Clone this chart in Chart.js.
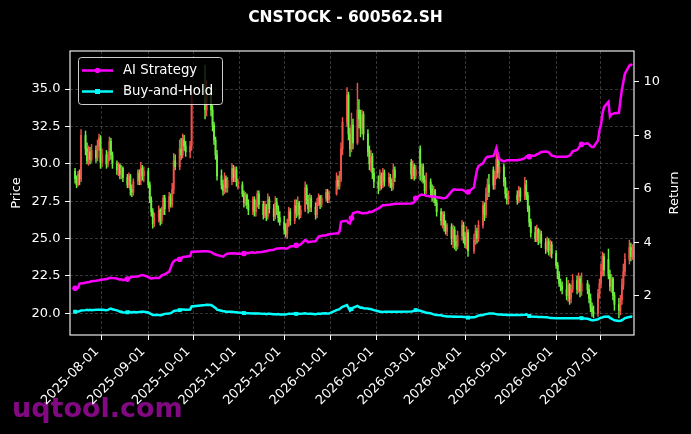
<!DOCTYPE html>
<html>
<head>
<meta charset="utf-8">
<title>CNSTOCK - 600562.SH</title>
<script src="https://cdn.jsdelivr.net/npm/chart.js@4.4.1/dist/chart.umd.min.js"></script>
<style>
  html, body { margin: 0; padding: 0; background: #000; }
  #wrap { width: 691px; height: 434px; }
</style>
</head>
<body>
<div id="wrap"><canvas id="chart" width="691" height="434"></canvas></div>
<script>
// trading calendar (weekdays minus exchange holidays)
const firstDay = '2025-07-14';
const lastDay = '2026-07-22';
const holidays = [
    '2025-10-01', '2025-10-02', '2025-10-03', '2025-10-06', '2025-10-07', '2025-10-08',
    '2026-01-01', '2026-01-02',
    '2026-02-16', '2026-02-17', '2026-02-18', '2026-02-19', '2026-02-20', '2026-02-23',
    '2026-04-06', '2026-05-01', '2026-05-04', '2026-05-05', '2026-06-19'
];

const tickLabels = ['2025-08-01', '2025-09-01', '2025-10-01', '2025-11-01', '2025-12-01', '2026-01-01',
    '2026-02-01', '2026-03-01', '2026-04-01', '2026-05-01', '2026-06-01', '2026-07-01'];
const priceTicks = [20, 22.5, 25, 27.5, 30, 32.5, 35];
const returnTicks = [2, 4, 6, 8, 10];

// daily candles, one line per month
const opens = [
    29.5,29.0,28.6,29.3,29.0,31.9,31.0,30.2,30.8,30.3,30.9,30.4,31.2,31.7,
    30.1,30.6,30.0,30.5,31.5,30.6,30.0,29.6,29.9,29.3,29.7,29.1,28.6,29.2,28.3,28.1,28.8,29.4,28.9,29.7,29.2,
    29.5,28.6,27.6,26.8,26.0,26.4,26.9,26.2,26.8,27.7,27.0,27.8,27.3,28.3,30.2,29.8,31.0,30.6,31.6,31.2,30.8,31.2,
    34.4,33.6,35.0,33.6,32.6,31.6,30.6,29.2,28.6,28.2,29.0,28.4,28.9,29.7,29.1,29.6,28.4,
    28.6,28.0,27.4,27.9,27.3,26.9,27.6,26.8,27.3,28.0,27.3,26.6,27.2,26.5,27.6,27.0,26.5,27.4,27.0,26.4,
    26.1,25.6,25.3,26.0,26.8,26.2,27.2,26.7,27.4,26.6,26.9,28.4,27.6,27.0,27.7,27.1,26.6,27.4,27.8,27.3,27.7,28.1,27.6,
    28.0,28.9,28.5,29.0,31.0,32.8,34.6,32.0,31.0,32.6,31.4,33.6,33.0,32.4,33.3,32.0,30.8,30.0,30.5,29.4,
    28.8,28.4,29.2,28.6,29.4,28.8,29.1,28.7,28.5,29.6,30.1,29.3,29.8,29.2,
    31.0,29.2,29.8,28.9,28.2,28.8,28.3,27.8,28.2,27.4,26.8,26.2,26.6,25.9,25.5,25.8,25.0,25.6,24.8,24.5,25.2,25.9,
    25.1,24.6,25.4,24.2,24.9,25.5,25.0,25.9,27.2,26.6,28.0,28.6,29.6,28.6,29.2,30.3,29.4,29.8,28.8,28.0,27.6,
    27.9,27.6,28.2,27.8,28.6,27.9,27.0,26.1,25.4,25.0,25.6,24.9,25.3,24.7,24.3,24.8,24.2,24.6,
    24.0,23.2,22.6,22.0,21.8,21.6,21.2,21.9,21.0,21.6,22.2,21.6,22.3,21.5,22.0,21.6,21.0,20.4,20.1,20.0,21.3,
    22.0,22.8,23.8,23.6,22.6,21.8,22.3,21.2,20.6,20.2,20.9,21.9,22.8,23.6,24.4,23.8
];
const highs = [
    29.7,29.2,29.5,29.6,32.3,32.2,31.4,31.2,31.1,31.3,31.2,31.6,32.0,31.9,
    31.0,30.9,30.8,31.8,31.7,30.8,30.2,30.1,30.0,29.9,29.8,29.3,29.4,29.3,28.6,29.0,29.6,29.6,30.1,29.9,29.8,
    29.7,28.8,27.8,27.0,26.7,27.2,27.0,27.1,27.9,27.9,28.1,28.0,28.7,30.7,30.6,31.6,31.7,32.0,31.9,31.5,31.5,34.8,
    36.6,35.6,35.3,33.9,32.8,31.8,30.9,29.6,28.9,29.4,29.2,29.1,30.0,29.9,29.8,29.8,29.0,
    28.8,28.2,28.1,28.0,27.6,27.8,27.8,27.6,28.2,28.2,27.5,27.5,27.3,28.0,27.8,27.3,27.8,27.7,27.2,26.8,
    26.5,26.0,26.3,27.1,27.0,27.6,27.6,27.8,27.5,27.2,28.8,28.6,27.9,28.0,27.9,27.4,27.7,28.0,27.9,27.9,28.3,28.3,28.2,
    29.4,29.2,29.5,31.4,33.1,35.1,34.8,32.4,33.4,33.0,35.4,34.3,33.6,33.6,33.5,32.3,31.2,30.9,30.7,29.7,
    29.2,29.6,29.4,29.7,29.6,29.4,29.3,29.0,30.0,29.8,30.3,30.2,30.0,29.9,
    31.2,30.0,30.0,29.2,29.4,29.0,28.6,28.5,28.3,27.6,27.0,26.8,26.8,26.2,26.0,26.0,25.9,25.8,25.2,25.5,26.2,26.1,
    25.4,25.8,25.6,25.3,25.9,25.7,26.2,27.5,27.4,28.4,29.0,29.3,29.8,29.5,30.7,30.7,30.2,30.0,29.1,28.4,28.2,
    28.2,28.5,28.4,29.1,28.9,28.1,27.2,26.3,25.8,25.9,25.7,25.6,25.5,25.0,25.1,25.0,24.9,24.8,
    24.2,23.4,22.8,22.3,22.1,22.4,22.2,22.0,21.9,22.6,22.5,22.7,22.5,22.7,22.2,21.9,21.3,20.7,20.5,21.6,22.3,
    23.3,24.1,24.0,24.3,22.9,22.6,22.4,21.4,21.0,21.2,22.3,23.3,24.0,24.9,24.7,24.6
];
const lows = [
    28.7,28.4,28.5,28.6,28.8,30.6,30.0,29.9,30.0,30.1,30.1,30.2,30.9,29.7,
    29.8,29.7,29.8,30.2,30.3,29.7,29.3,29.2,29.0,29.0,28.8,28.4,28.4,27.9,27.8,27.9,28.6,28.6,28.6,28.9,28.8,
    28.4,27.4,26.5,25.7,25.8,26.1,25.9,26.0,26.6,26.6,26.8,27.1,27.1,28.0,29.6,29.6,30.3,30.4,30.9,30.5,30.4,30.9,
    33.0,33.2,33.2,32.2,31.3,30.3,28.9,28.3,27.9,28.0,28.1,28.1,28.6,28.8,28.8,28.5,28.3,
    27.8,27.1,27.2,27.0,26.6,26.6,26.5,26.5,27.1,27.0,26.3,26.4,26.2,26.3,26.7,26.2,26.3,26.6,26.1,25.9,
    25.3,25.1,25.0,25.8,25.9,26.0,26.4,26.5,26.3,26.4,26.8,27.3,26.7,26.8,26.8,26.3,26.4,27.2,27.0,27.1,27.5,27.4,27.4,
    27.9,28.3,28.3,28.8,30.6,32.5,31.6,30.5,30.8,31.0,31.3,32.4,31.8,32.0,31.6,30.5,29.6,29.5,29.0,28.4,
    28.0,28.2,28.3,28.4,28.5,28.5,28.4,28.2,28.3,28.8,29.0,29.0,28.9,29.0,
    28.9,28.8,28.7,27.9,28.0,27.9,27.5,27.4,27.2,26.5,25.9,25.7,25.5,25.3,25.2,24.6,24.4,24.3,24.2,24.3,24.9,24.7,
    24.4,24.3,23.8,24.0,24.6,24.7,24.8,25.7,26.2,26.4,27.6,27.8,28.3,28.3,29.0,29.1,29.0,28.5,27.7,27.3,27.3,
    27.3,27.4,27.5,27.6,27.6,26.8,25.8,25.1,24.8,24.8,24.6,24.7,24.4,24.0,24.1,23.9,23.8,23.7,
    23.0,22.3,21.8,21.5,21.3,20.9,20.8,20.6,20.7,21.4,21.3,21.4,21.1,21.2,21.3,20.7,20.1,19.8,19.7,19.8,21.0,
    21.7,22.5,22.5,22.3,21.5,21.4,20.9,20.2,19.7,19.9,20.6,21.6,22.5,23.3,23.5,23.6
];
const closes = [
    29.0,28.6,29.3,29.0,31.9,31.0,30.2,30.8,30.3,30.9,30.4,31.2,31.7,30.1,
    30.6,30.0,30.5,31.5,30.6,30.0,29.6,29.9,29.3,29.7,29.1,28.6,29.2,28.3,28.1,28.8,29.4,28.9,29.7,29.2,29.5,
    28.6,27.6,26.8,26.0,26.4,26.9,26.2,26.8,27.7,27.0,27.8,27.3,28.3,30.2,29.8,31.0,30.6,31.6,31.2,30.8,31.2,34.4,
    33.6,35.0,33.6,32.6,31.6,30.6,29.2,28.6,28.2,29.0,28.4,28.9,29.7,29.1,29.6,28.8,28.8,
    28.0,27.4,27.9,27.3,26.9,27.6,26.8,27.3,28.0,27.3,26.6,27.2,26.5,27.6,27.0,26.5,27.4,27.0,26.4,26.1,
    25.6,25.3,26.0,26.8,26.2,27.2,26.7,27.4,26.6,26.9,28.4,27.6,27.0,27.7,27.1,26.6,27.4,27.8,27.3,27.7,28.1,27.6,28.0,
    28.9,28.5,29.0,31.0,32.8,34.6,32.0,31.0,32.6,31.4,33.6,33.0,32.4,33.3,32.0,30.8,30.0,30.5,29.4,28.8,
    28.4,29.2,28.6,29.4,28.8,29.1,28.7,28.5,29.6,29.1,29.3,29.8,29.2,29.6,
    29.2,29.8,28.9,28.2,28.8,28.3,27.8,28.2,27.4,26.8,26.2,26.6,25.9,25.5,25.8,25.0,25.6,24.8,24.5,25.2,25.9,25.1,
    24.6,25.4,24.2,24.9,25.5,25.0,25.9,27.2,26.6,28.0,28.6,28.1,28.6,29.2,30.3,29.4,29.8,28.8,28.0,27.6,27.9,
    27.6,28.2,27.8,28.6,27.9,27.0,26.1,25.4,25.0,25.6,24.9,25.3,24.7,24.3,24.8,24.2,24.6,24.0,
    23.2,22.6,22.0,21.8,21.6,21.2,21.9,21.0,21.6,22.2,21.6,22.3,21.5,22.0,21.6,21.0,20.4,20.1,20.0,21.3,22.0,
    22.8,23.8,22.9,22.6,21.8,22.3,21.2,20.6,20.2,20.9,21.9,22.8,23.6,24.4,23.8,24.2
];

// cumulative returns, right axis
const aiStrategy = [
    2.28,2.28,2.30,2.45,2.46,2.48,2.50,2.50,2.52,2.54,2.56,2.57,2.58,2.60,
    2.60,2.62,2.64,2.66,2.67,2.66,2.64,2.62,2.60,2.62,2.58,2.62,2.66,2.68,2.70,2.71,2.72,2.74,2.76,2.77,2.76,
    2.70,2.66,2.64,2.65,2.66,2.66,2.70,2.76,2.78,2.80,2.90,3.05,3.20,3.28,3.33,3.36,3.40,3.44,3.46,3.46,3.48,3.64,
    3.66,3.66,3.64,3.60,3.56,3.54,3.52,3.48,3.46,3.50,3.55,3.57,3.59,3.58,3.59,3.57,3.58,
    3.56,3.58,3.60,3.60,3.60,3.62,3.60,3.61,3.62,3.62,3.64,3.66,3.66,3.68,3.70,3.72,3.74,3.76,3.76,3.77,
    3.77,3.76,3.77,3.80,3.84,3.86,3.88,3.90,3.90,3.92,4.08,4.05,4.00,4.02,4.02,4.04,4.12,4.21,4.22,4.24,4.26,4.28,4.30,
    4.33,4.33,4.40,4.76,4.78,4.80,4.72,4.70,4.90,5.08,5.14,5.12,5.10,5.08,5.08,5.10,5.14,5.12,5.14,5.18,
    5.26,5.30,5.34,5.38,5.38,5.40,5.40,5.42,5.42,5.44,5.45,5.46,5.50,5.64,
    5.76,5.78,5.77,5.76,5.74,5.71,5.70,5.72,5.70,5.68,5.66,5.64,5.64,5.66,5.70,5.90,5.96,5.98,5.96,5.96,5.96,5.94,
    5.90,5.88,5.88,6.05,6.40,6.70,6.85,6.95,7.05,7.15,7.20,7.20,7.22,7.35,7.52,7.30,7.10,7.02,7.04,7.06,7.06,
    7.06,7.08,7.08,7.14,7.20,7.22,7.20,7.22,7.24,7.28,7.30,7.34,7.37,7.39,7.38,7.36,7.30,7.24,
    7.20,7.20,7.20,7.20,7.20,7.20,7.22,7.24,7.30,7.40,7.45,7.52,7.60,7.66,7.70,7.66,7.60,7.56,7.56,7.80,8.20,
    8.40,8.80,9.05,9.25,8.70,8.78,8.80,8.82,8.84,9.30,9.70,10.00,10.30,10.60,10.64,10.62
];
const buyHold = [
    1.40,1.40,1.41,1.42,1.45,1.46,1.47,1.46,1.47,1.46,1.47,1.47,1.48,1.47,
    1.47,1.46,1.47,1.50,1.52,1.49,1.45,1.43,1.40,1.41,1.37,1.38,1.40,1.38,1.37,1.39,1.38,1.39,1.40,1.40,1.40,
    1.37,1.34,1.31,1.28,1.28,1.28,1.27,1.28,1.30,1.32,1.33,1.35,1.38,1.42,1.44,1.46,1.47,1.48,1.48,1.47,1.48,1.60,
    1.65,1.66,1.65,1.62,1.58,1.54,1.48,1.44,1.42,1.42,1.40,1.40,1.40,1.39,1.38,1.38,1.37,
    1.36,1.35,1.35,1.34,1.34,1.33,1.34,1.33,1.34,1.33,1.32,1.32,1.31,1.32,1.32,1.31,1.31,1.30,1.31,1.30,
    1.30,1.30,1.31,1.32,1.32,1.33,1.32,1.33,1.32,1.32,1.34,1.33,1.32,1.32,1.32,1.31,1.32,1.33,1.32,1.33,1.34,1.33,1.33,
    1.46,1.48,1.50,1.55,1.58,1.65,1.55,1.44,1.50,1.55,1.62,1.58,1.55,1.56,1.53,1.52,1.50,1.50,1.48,1.46,
    1.42,1.40,1.40,1.39,1.40,1.40,1.40,1.40,1.40,1.40,1.41,1.42,1.44,1.46,
    1.44,1.42,1.40,1.38,1.36,1.34,1.32,1.30,1.29,1.28,1.27,1.25,1.24,1.23,1.22,1.22,1.21,1.22,1.21,1.21,1.21,1.20,
    1.20,1.19,1.18,1.19,1.21,1.23,1.26,1.28,1.30,1.31,1.32,1.33,1.33,1.32,1.31,1.30,1.30,1.29,1.29,1.28,1.28,
    1.28,1.28,1.28,1.29,1.30,1.27,1.24,1.22,1.21,1.21,1.20,1.20,1.20,1.19,1.19,1.18,1.17,1.17,
    1.16,1.16,1.16,1.16,1.16,1.16,1.16,1.16,1.16,1.16,1.16,1.16,1.17,1.16,1.14,1.12,1.10,1.08,1.08,1.12,1.15,
    1.17,1.19,1.21,1.22,1.17,1.14,1.11,1.08,1.05,1.06,1.08,1.12,1.16,1.20,1.22,1.21
];

const UP = '#f0524a';
const DOWN = '#6cf03c';
const MS_DAY = 86400000;
const ORIGIN = Date.UTC(2025, 7, 1);

function dayNum(s) {
    const [y, m, d] = s.split('-').map(Number);
    return (Date.UTC(y, m - 1, d) - ORIGIN) / MS_DAY;
}

const days = [];
for (let t = dayNum(firstDay); t <= dayNum(lastDay); t++) {
    const dt = new Date(ORIGIN + t * MS_DAY);
    const wd = dt.getUTCDay();
    if (wd === 0 || wd === 6) continue;
    if (holidays.includes(dt.toISOString().slice(0, 10))) continue;
    days.push(t);
}

const candleColors = closes.map((c, i) => (c >= opens[i] ? UP : DOWN));
const markEvery = (ctx) => (ctx.dataIndex % 25 === 0 ? 2.8 : 0);

const gridColor = 'rgba(255,255,255,0.3)';

const decor = {
    id: 'decor',
    beforeDraw(chart) {
        const c = chart.ctx;
        c.save();
        c.fillStyle = '#000';
        c.fillRect(0, 0, chart.width, chart.height);
        c.font = 'bold 27px "DejaVu Sans"';
        c.fillStyle = 'rgba(145, 10, 145, 0.9)';
        c.textBaseline = 'alphabetic';
        c.fillText('uqtool.com', 12, 417);
        c.restore();
    },
    afterDatasetsDraw(chart) {
        const c = chart.ctx;
        const a = chart.chartArea;
        c.save();
        // axes box
        c.strokeStyle = '#fff';
        c.lineWidth = 1.1;
        c.strokeRect(a.left, a.top, a.right - a.left, a.bottom - a.top);

        // right axis label, reads bottom to top like the left one
        c.save();
        c.translate(675, (a.top + a.bottom) / 2);
        c.rotate(-Math.PI / 2);
        c.font = '13px "DejaVu Sans"';
        c.fillStyle = '#fff';
        c.textAlign = 'center';
        c.textBaseline = 'middle';
        c.fillText('Return', 0, 0);
        c.restore();

        // legend
        const lx = 78.5, ly = 57.5, lw = 144, lh = 47;
        c.beginPath();
        c.roundRect(lx, ly, lw, lh, 3);
        c.fillStyle = 'rgba(0,0,0,0.8)';
        c.fill();
        c.strokeStyle = 'rgba(255,255,255,0.8)';
        c.lineWidth = 1;
        c.stroke();

        const rows = [
            { label: 'AI Strategy', color: '#ff00ff', y: 70.5, square: false },
            { label: 'Buy-and-Hold', color: '#00ffff', y: 91.5, square: true }
        ];
        c.font = '13.3px "DejaVu Sans"';
        c.textBaseline = 'middle';
        rows.forEach(r => {
            c.strokeStyle = r.color;
            c.fillStyle = r.color;
            c.lineWidth = 2.5;
            c.beginPath();
            c.moveTo(82, r.y);
            c.lineTo(113, r.y);
            c.stroke();
            if (r.square) {
                c.fillRect(95, r.y - 2.5, 5, 5);
            } else {
                c.beginPath();
                c.arc(97.5, r.y, 2.7, 0, Math.PI * 2);
                c.fill();
            }
            c.fillStyle = '#fff';
            c.fillText(r.label, 123, r.y + 0.5);
        });
        c.restore();
    }
};

Chart.defaults.font.family = '"DejaVu Sans", sans-serif';
Chart.defaults.color = '#fff';

const okLengths = [opens, highs, lows, closes, aiStrategy, buyHold].every(a => a.length === days.length);

new Chart(document.getElementById('chart'), {
    type: 'bar',
    data: {
        datasets: [
            {
                type: 'line',
                label: 'AI Strategy',
                data: days.map((d, i) => ({ x: d, y: aiStrategy[i] })),
                yAxisID: 'y1',
                borderColor: '#ff00ff',
                backgroundColor: '#ff00ff',
                borderWidth: 2.5,
                pointRadius: markEvery,
                pointStyle: 'circle',
                pointBorderWidth: 0,
                tension: 0,
                order: 0
            },
            {
                type: 'line',
                label: 'Buy-and-Hold',
                data: days.map((d, i) => ({ x: d, y: buyHold[i] })),
                yAxisID: 'y1',
                borderColor: '#00ffff',
                backgroundColor: '#00ffff',
                borderWidth: 2.5,
                pointRadius: markEvery,
                pointStyle: 'rect',
                pointBorderWidth: 0,
                tension: 0,
                order: 0
            },
            {
                label: 'body',
                data: days.map((d, i) => ({ x: d, y: [opens[i], closes[i]] })),
                yAxisID: 'y',
                backgroundColor: candleColors,
                barThickness: 1.2,
                grouped: false,
                borderWidth: 0,
                order: 1
            },
            {
                label: 'wick',
                data: days.map((d, i) => ({ x: d, y: [lows[i], highs[i]] })),
                yAxisID: 'y',
                backgroundColor: candleColors,
                barThickness: 0.8,
                grouped: false,
                borderWidth: 0,
                order: 2
            }
        ]
    },
    options: {
        responsive: false,
        animation: false,
        events: [],
        layout: { padding: 0 },
        plugins: {
            legend: { display: false },
            tooltip: { enabled: false },
            title: {
                display: true,
                text: okLengths ? 'CNSTOCK - 600562.SH' : 'LENGTH MISMATCH ' + days.length,
                color: '#fff',
                font: { size: 15.5, weight: 'bold' },
                padding: { top: 9, bottom: 23.4 }
            }
        },
        scales: {
            x: {
                type: 'linear',
                min: -21.4,
                max: 356.1,
                offset: false,
                afterBuildTicks: s => { s.ticks = tickLabels.map(t => ({ value: dayNum(t) })); },
                afterFit: s => { s.height = 99; },
                ticks: {
                    autoSkip: false,
                    minRotation: 45,
                    maxRotation: 45,
                    padding: 4,
                    labelOffset: -5,
                    color: '#fff',
                    font: { size: 13 },
                    callback: (v, i) => tickLabels[i]
                },
                grid: {
                    offset: false,
                    color: gridColor,
                    lineWidth: 0.7,
                    tickColor: '#fff',
                    tickLength: 5,
                    tickWidth: 1,
                    tickBorderDash: []
                },
                border: { display: false, dash: [3, 2] }
            },
            y: {
                position: 'left',
                min: 18.55,
                max: 37.55,
                afterBuildTicks: s => { s.ticks = priceTicks.map(v => ({ value: v })); },
                afterFit: s => { s.width = 70; },
                ticks: {
                    autoSkip: false,
                    padding: 4.5,
                    color: '#fff',
                    font: { size: 13 },
                    callback: v => v.toFixed(1)
                },
                grid: {
                    color: gridColor,
                    lineWidth: 0.7,
                    tickColor: '#fff',
                    tickLength: 5,
                    tickWidth: 1,
                    tickBorderDash: []
                },
                border: { display: false, dash: [3, 2] },
                title: { display: true, text: 'Price', color: '#fff', font: { size: 13 }, padding: { top: 9, bottom: 0 } }
            },
            y1: {
                position: 'right',
                min: 0.53,
                max: 11.15,
                afterBuildTicks: s => { s.ticks = returnTicks.map(v => ({ value: v })); },
                afterFit: s => { s.width = 57; },
                ticks: {
                    autoSkip: false,
                    padding: 4.5,
                    color: '#fff',
                    font: { size: 13 },
                    callback: v => String(v)
                },
                grid: {
                    drawOnChartArea: false,
                    tickColor: '#fff',
                    tickLength: 5,
                    tickWidth: 1
                },
                border: { display: false }
            }
        }
    },
    plugins: [decor]
});
</script>
</body>
</html>
